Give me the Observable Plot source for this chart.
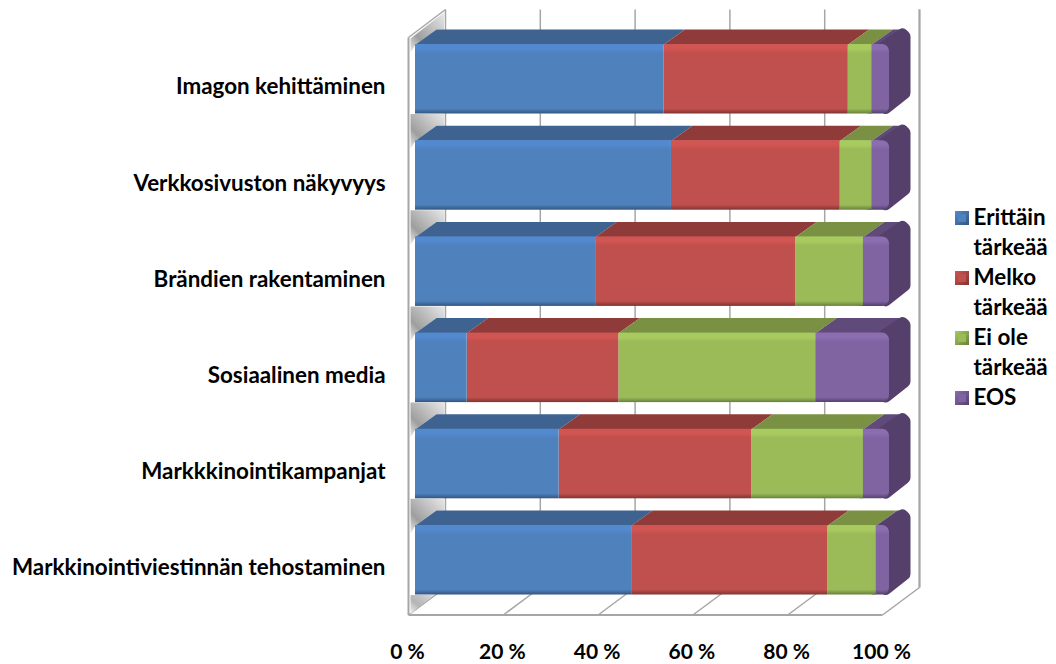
<!DOCTYPE html>
<html lang="fi">
<head>
<meta charset="utf-8">
<title>Markkinoinnin tärkeys</title>
<style>
  html, body { margin: 0; padding: 0; background: #fff; }
  svg { display: block; }
</style>
<script src="https://cdn.jsdelivr.net/npm/d3@7"></script>
<script src="https://cdn.jsdelivr.net/npm/@observablehq/plot@0.6"></script>
</head>
<body>
<div id="chart"></div>
<script>
// Survey answers, percent of respondents per topic.
const categories = [
  "Imagon kehittäminen",
  "Verkkosivuston näkyvyys",
  "Brändien rakentaminen",
  "Sosiaalinen media",
  "Markkkinointikampanjat",
  "Markkinointiviestinnän tehostaminen"
];
const erittain = [52.4, 54.0, 38.0, 10.9, 30.3, 45.6];
const melko    = [38.9, 35.6, 42.2, 32.0, 40.6, 41.4];
const eiOle    = [5.0, 6.7, 14.3, 41.6, 23.6, 10.2];
const eos      = [3.7, 3.7, 5.5, 15.5, 5.5, 2.8];
const tickValues = [0, 20, 40, 60, 80, 100];

const seriesNames = ["Erittäin tärkeää", "Melko tärkeää", "Ei ole tärkeää", "EOS"];
const seriesValues = [erittain, melko, eiOle, eos];
const legendLines = [["Erittäin", "tärkeää"], ["Melko", "tärkeää"], ["Ei ole", "tärkeää"], ["EOS"]];

// Palette per series: front face, lit top edge, shaded lower edge, receding top face.
const palette = [
  {id: "blue",   main: "#4f81bd", lit: "#5289cf", dark: "#33557f", top: "#3f6390", side: "#3f6390"},
  {id: "red",    main: "#c0504d", lit: "#d15552", dark: "#7f3432", top: "#8f3b39", side: "#8f3b39"},
  {id: "green",  main: "#9bbb59", lit: "#a8cb60", dark: "#67803a", top: "#7a9042", side: "#7a9042"},
  {id: "purple", main: "#8064a2", lit: "#8b6db0", dark: "#54406b", top: "#5f4a7a", side: "#54406b"}
];

// Drawing units: x is percent, y is the row number; one row is 96.2 px, 1 % is 4.74 px.
const pxX = 4.74, pxY = 96.2;
const ux = (px) => px / pxX, uy = (px) => px / pxY;
const barH = uy(69.5);
const depthX = ux(21), depthY = uy(15);
const wallFront = ux(-7), wallBack = ux(30);
const wallTopFront = uy(-7), wallTopBack = uy(-35);
const floorFront = uy(570.5), floorBack = uy(543);

// Stacked segments with cumulative start and end.
const segments = categories.flatMap((cat, row) => {
  let sum = 0;
  return seriesValues.map((vals, s) => {
    const a = sum;
    sum += vals[row];
    return {cat, row, s, a, b: sum};
  });
});

// Parallelogram on top of a bar segment; the last series stops short of the rounded corner.
function topFace(d) {
  const t = d.row, bx = depthX, by = depthY;
  const pts = d.s === 3
    ? [[d.a, t], [d.b, t], [d.b + ux(14), t - by + uy(3)], [d.b + ux(12), t - by], [d.a + bx, t - by]]
    : [[d.a, t], [d.b, t], [d.b + bx, t - by], [d.a + bx, t - by]];
  return pts.map(([x, y]) => ({x, y, key: `${d.row}-${d.s}`}));
}

// End cap of a bar, inset so that a round-joined stroke gives it soft corners.
function sideFace(row) {
  const e = 100, t = row, r = row + barH;
  const pts = [
    [e - ux(6), t + uy(3)],
    [e + depthX - ux(8), t - depthY + uy(5)],
    [e + depthX - ux(6), t - depthY + uy(7)],
    [e + depthX - ux(6), r - depthY - uy(6)],
    [e - ux(4), r - uy(6)],
    [e - ux(6), t + uy(3)]
  ];
  return pts.map(([x, y]) => ({x, y, key: row}));
}

// Shadow patches on the left wall, in the gaps between bars.
const wallX = (px) => ux(px);
const shadowPatches = categories.map((_, i) => {
  const t = i, prevBottom = i === 0 ? null : i - 1 + barH;
  const pts = i === 0
    ? [[wallX(-5), uy(-6)], [wallX(28.5), uy(-32)], [wallX(28.5), -depthY], [wallX(21), -depthY], [0, 0], [wallX(-5), uy(8)]]
    : [[wallX(-5), prevBottom], [wallX(29), prevBottom], [wallX(29), t - depthY], [wallX(21), t - depthY], [0, t], [wallX(-5), t + uy(8)]];
  return pts.map(([x, y]) => ({x, y, key: i}));
}).flat();
const floorShadow = [[wallX(-5), 5 + barH], [wallX(18), 5 + barH], [wallX(-5), floorFront - uy(1)]]
  .map(([x, y]) => ({x, y}));

// Legend placement.
const legendTextX = ux(558);
const legendSwatchX = ux(540);
const swatchW = ux(14), swatchH = uy(14);
const legendStart = uy(173);
const legendStep = uy(30);
let lineNo = 0;
const legendText = [];
const legendSwatches = [];
legendLines.forEach((lines, s) => {
  legendSwatches.push({s, y: legendStart + lineNo * legendStep});
  lines.forEach((text) => {
    legendText.push({text, y: legendStart + lineNo * legendStep});
    lineNo++;
  });
});

// Vertical shading for each front face, and the shaded wall patches.
function gradients() {
  const faces = palette.map((p) => `
    <linearGradient id="front-${p.id}" x1="0" y1="0" x2="0" y2="1">
      <stop offset="0" stop-color="${p.lit}"/>
      <stop offset="0.07" stop-color="${p.lit}"/>
      <stop offset="0.13" stop-color="${p.main}"/>
      <stop offset="0.93" stop-color="${p.main}"/>
      <stop offset="1" stop-color="${p.dark}"/>
    </linearGradient>
    <linearGradient id="swatch-${p.id}" x1="0" y1="0" x2="1" y2="1">
      <stop offset="0" stop-color="${p.lit}"/>
      <stop offset="1" stop-color="${p.dark}"/>
    </linearGradient>`).join("");
  const wall = `
    <linearGradient id="wall-shadow" x1="0" y1="1" x2="1" y2="0">
      <stop offset="0" stop-color="#ececec"/>
      <stop offset="0.3" stop-color="#9e9e9e"/>
      <stop offset="0.7" stop-color="#c8c8c8"/>
      <stop offset="1" stop-color="#e8e8e8"/>
    </linearGradient>
    <linearGradient id="floor-shadow" x1="0" y1="1" x2="1" y2="0">
      <stop offset="0" stop-color="#f2f2f2"/>
      <stop offset="0.4" stop-color="#b4b4b4"/>
      <stop offset="1" stop-color="#d8d8d8"/>
    </linearGradient>`;
  return d3.create("svg:defs").html(faces + wall).node();
}

const gridColor = "#a6a6a6";
const shadowKeys = d3.group(shadowPatches, (d) => d.key);

const chart = Plot.plot({
  width: 1056,
  height: 664,
  marginTop: 0,
  marginRight: 0,
  marginBottom: 24,
  marginLeft: 0,
  style: {fontFamily: "Lato, sans-serif", background: "#fff", color: "#000", overflow: "visible"},
  x: {domain: [0, 100], range: [415, 889]},
  y: {domain: [0, 6], range: [44, 44 + 6 * pxY], axis: null},
  marks: [
    gradients,

    // Back wall gridlines, floor lines, and the outline of the box.
    Plot.link(tickValues, {
      x1: (d) => d + wallBack, x2: (d) => d + wallBack,
      y1: () => wallTopBack, y2: () => floorBack,
      stroke: gridColor, strokeWidth: 1.5
    }),
    Plot.link(tickValues, {
      x1: (d) => d + wallFront, x2: (d) => d + wallBack,
      y1: () => floorFront, y2: () => floorBack,
      stroke: gridColor, strokeWidth: 1.5
    }),
    Plot.link([0], {
      x1: () => wallFront, x2: () => wallFront,
      y1: () => wallTopFront, y2: () => floorFront,
      stroke: gridColor, strokeWidth: 2
    }),
    Plot.link([0], {
      x1: () => wallFront, x2: () => wallBack,
      y1: () => wallTopFront, y2: () => wallTopBack,
      stroke: gridColor, strokeWidth: 1.5
    }),
    Plot.link([0], {
      x1: () => wallFront, x2: () => 100 + wallFront,
      y1: () => floorFront, y2: () => floorFront,
      stroke: gridColor, strokeWidth: 2
    }),
    Plot.link([100], {
      x1: (d) => d + wallBack, x2: (d) => d + wallBack,
      y1: () => wallTopBack, y2: () => floorBack,
      stroke: gridColor, strokeWidth: 2
    }),

    // Shadows cast on the wall and floor.
    ...[...shadowKeys.values()].map((pts) =>
      Plot.line(pts, {x: "x", y: "y", fill: "url(#wall-shadow)", stroke: "none", curve: "linear"})
    ),
    Plot.line(floorShadow, {x: "x", y: "y", fill: "url(#floor-shadow)", stroke: "none", curve: "linear"}),

    // Bars: receding top faces, end caps, then the front faces.
    ...palette.map((p, s) =>
      Plot.line(segments.filter((d) => d.s === s).flatMap(topFace), {
        x: "x", y: "y", z: "key", fill: p.top, stroke: "none", curve: "linear"
      })
    ),
    Plot.line(categories.flatMap((_, i) => sideFace(i)), {
      x: "x", y: "y", z: "key", fill: palette[3].side, stroke: palette[3].side,
      strokeWidth: 12, strokeLinejoin: "round", curve: "linear"
    }),
    Plot.rect(segments.filter((d) => d.s === 3), {
      x1: (d) => d.a - 2, x2: "b",
      y1: "row", y2: (d) => d.row + barH,
      fill: "url(#front-purple)", rx: 7
    }),
    ...palette.slice(0, 3).reverse().map((p) => {
      const s = palette.indexOf(p);
      return Plot.rect(segments.filter((d) => d.s === s), {
        x1: "a", x2: "b",
        y1: "row", y2: (d) => d.row + barH,
        fill: `url(#front-${p.id})`
      });
    }),

    // Topic names.
    Plot.text(categories, {
      x: () => 0,
      y: (d, i) => i + barH / 2 + uy(8),
      text: (d) => d,
      textAnchor: "end",
      dx: -30,
      fontSize: 22.4,
      fontWeight: 700,
      fill: "#000"
    }),

    // Percentage axis, aligned with the front edge of the floor.
    Plot.axisX({
      anchor: "bottom",
      ticks: tickValues,
      tickSize: 0,
      tickPadding: 4,
      dx: -8,
      tickFormat: (d) => `${d} %`,
      fontSize: 21,
      fontWeight: 700,
      fill: "#000",
      label: null
    }),

    // Legend.
    ...palette.map((p, s) =>
      Plot.rect(legendSwatches.filter((d) => d.s === s), {
        x1: () => legendSwatchX, x2: () => legendSwatchX + swatchW,
        y1: (d) => d.y - swatchH / 2 + uy(1), y2: (d) => d.y + swatchH / 2 + uy(1),
        fill: `url(#swatch-${p.id})`
      })
    ),
    ...palette.map((p, s) =>
      Plot.rect(legendSwatches.filter((d) => d.s === s), {
        x1: () => legendSwatchX + ux(3), x2: () => legendSwatchX + swatchW - ux(3),
        y1: (d) => d.y - swatchH / 2 + uy(4), y2: (d) => d.y + swatchH / 2 - uy(2),
        fill: p.main
      })
    ),
    Plot.text(legendText, {
      x: () => legendTextX,
      y: "y",
      text: "text",
      textAnchor: "start",
      fontSize: 22.4,
      fontWeight: 700,
      fill: "#000"
    })
  ]
});
document.getElementById("chart").append(chart);
</script>
</body>
</html>
